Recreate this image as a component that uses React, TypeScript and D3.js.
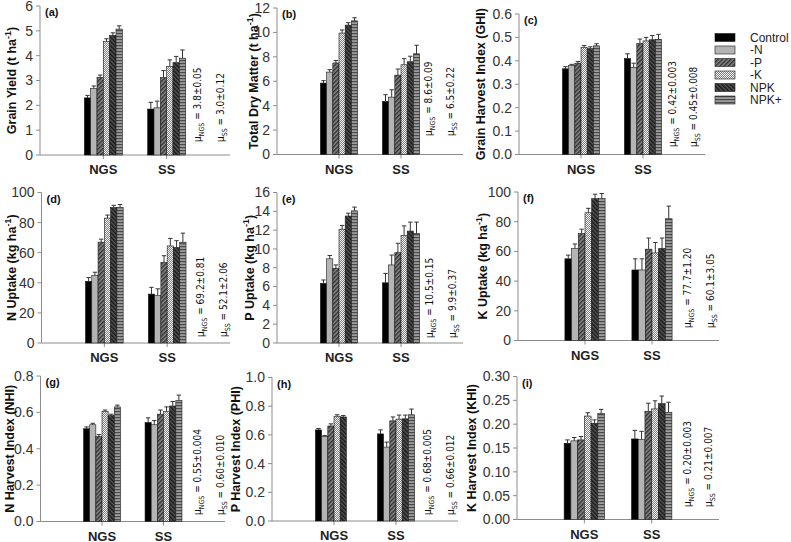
import React from 'react';
import * as d3 from 'd3';

// categories
const groups = ["NGS", "SS"];
const treatments = ["Control", "-N", "-P", "-K", "NPK", "NPK+"];

// (a) Grain yield, t/ha
const grainNGS = [2.3, 2.68, 3.12, 4.58, 4.82, 5.07];
const grainNGSErr = [0.1, 0.1, 0.1, 0.1, 0.1, 0.13];
const grainSS = [1.85, 1.9, 3.12, 3.57, 3.72, 3.9];
const grainSSErr = [0.27, 0.27, 0.28, 0.26, 0.25, 0.33];

// (b) Total dry matter, t/ha
const tdmNGS = [5.85, 6.75, 7.5, 9.95, 10.6, 10.95];
const tdmNGSErr = [0.2, 0.2, 0.2, 0.25, 0.2, 0.25];
const tdmSS = [4.35, 4.7, 6.5, 7.35, 7.6, 8.25];
const tdmSSErr = [0.55, 0.6, 0.5, 0.5, 0.45, 0.7];

// (c) Grain harvest index
const ghiNGS = [0.366, 0.38, 0.39, 0.457, 0.452, 0.464];
const ghiNGSErr = [0.009, 0.005, 0.007, 0.008, 0.008, 0.009];
const ghiSS = [0.41, 0.372, 0.474, 0.485, 0.49, 0.492];
const ghiSSErr = [0.02, 0.018, 0.019, 0.015, 0.018, 0.021];

// (d) N uptake, kg/ha
const nUpNGS = [41, 45, 67, 83, 90, 90];
const nUpNGSErr = [2.5, 2, 2, 2, 1.5, 2];
const nUpSS = [32.5, 31.5, 53.5, 64.5, 63.5, 67];
const nUpSSErr = [4.5, 4.5, 4.5, 5, 4.5, 6];

// (e) P uptake, kg/ha
const pUpNGS = [6.35, 8.95, 7.95, 12.1, 13.5, 14.05];
const pUpNGSErr = [0.35, 0.35, 0.35, 0.4, 0.3, 0.4];
const pUpSS = [6.4, 8.3, 9.6, 11.45, 11.9, 11.65];
const pUpSSErr = [1.0, 1.05, 1.0, 1.0, 0.95, 1.2];

// (f) K uptake, kg/ha
const kUpNGS = [55, 62, 72, 86, 95.5, 95.5];
const kUpNGSErr = [2.5, 3, 3, 3, 3, 3.5];
const kUpSS = [47.5, 47.5, 61.5, 59, 62, 82];
const kUpSSErr = [7.5, 7.5, 7.5, 7, 7, 8.5];

// (g) N harvest index
const nhiNGS = [0.51, 0.532, 0.468, 0.605, 0.583, 0.63];
const nhiNGSErr = [0.01, 0.008, 0.01, 0.008, 0.007, 0.01];
const nhiSS = [0.545, 0.532, 0.59, 0.605, 0.635, 0.665];
const nhiSSErr = [0.025, 0.023, 0.023, 0.025, 0.025, 0.03];

// (h) P harvest index (no NPK+ bar for NGS)
const phiNGS = [0.635, 0.59, 0.662, 0.73, 0.725, null];
const phiNGSErr = [0.01, 0.005, 0.015, 0.01, 0.01, null];
const phiSS = [0.607, 0.515, 0.698, 0.71, 0.712, 0.74];
const phiSSErr = [0.028, 0.035, 0.027, 0.028, 0.026, 0.04];

// (i) K harvest index
const khiNGS = [0.16, 0.165, 0.167, 0.217, 0.202, 0.222];
const khiNGSErr = [0.007, 0.007, 0.007, 0.007, 0.007, 0.009];
const khiSS = [0.169, 0.168, 0.227, 0.232, 0.243, 0.225];
const khiSSErr = [0.018, 0.017, 0.017, 0.017, 0.016, 0.021];

// axis maxima / steps / decimals
const yMax = [6, 12, 0.6, 100, 16, 100, 0.8, 1.0, 0.3];
const yStep = [1, 2, 0.1, 20, 2, 20, 0.2, 0.2, 0.05];
const yDec = [0, 0, 1, 0, 0, 0, 1, 1, 2];

// axis titles (main part, superscript, tail)
const yTitles = [
  ["Grain Yield (t ha", "-1", ")"],
  ["Total Dry Matter (t ha", "-1", ")"],
  ["Grain Harvest Index (GHI)", "", ""],
  ["N Uptake (kg ha", "-1", ")"],
  ["P Uptake (kg ha", "-1", ")"],
  ["K Uptake (kg ha", "-1", ")"],
  ["N Harvest Index (NHI)", "", ""],
  ["P Harvest Index (PHI)", "", ""],
  ["K Harvest Index (KHI)", "", ""],
];
const panelTags = ["(a)", "(b)", "(c)", "(d)", "(e)", "(f)", "(g)", "(h)", "(i)"];
const muNGS = ["3.8±0.05", "8.6±0.09", "0.42±0.003", "69.2±0.81", "10.5±0.15", "77.7±1.20", "0.55±0.004", "0.68±0.005", "0.20±0.003"];
const muSS = ["3.0±0.12", "6.5±0.22", "0.45±0.008", "52.1±2.06", "9.9±0.37", "60.1±3.05", "0.60±0.010", "0.66±0.012", "0.21±0.007"];

const seriesNGS = [grainNGS, tdmNGS, ghiNGS, nUpNGS, pUpNGS, kUpNGS, nhiNGS, phiNGS, khiNGS];
const seriesNGSErr = [grainNGSErr, tdmNGSErr, ghiNGSErr, nUpNGSErr, pUpNGSErr, kUpNGSErr, nhiNGSErr, phiNGSErr, khiNGSErr];
const seriesSS = [grainSS, tdmSS, ghiSS, nUpSS, pUpSS, kUpSS, nhiSS, phiSS, khiSS];
const seriesSSErr = [grainSSErr, tdmSSErr, ghiSSErr, nUpSSErr, pUpSSErr, kUpSSErr, nhiSSErr, phiSSErr, khiSSErr];

// plot frames (pixels) for each panel
const frames = [
  { x0: 40, x1: 230, yT: 6, yB: 155, titleX: 11, muX: [201, 224], muY: 142 },
  { x0: 277, x1: 463, yT: 8, yB: 154.5, titleX: 253, muX: [432, 454], muY: 136 },
  { x0: 519, x1: 705, yT: 14, yB: 154.5, titleX: 480, muX: [676, 697], muY: 147 },
  { x0: 41.5, x1: 230, yT: 192.5, yB: 343, titleX: 11, muX: [204, 227], muY: 337 },
  { x0: 277, x1: 463, yT: 192.5, yB: 343, titleX: 249, muX: [433, 456], muY: 338 },
  { x0: 518, x1: 719, yT: 192, yB: 340.5, titleX: 482, muX: [691, 714], muY: 328 },
  { x0: 40.5, x1: 225, yT: 376, yB: 521.5, titleX: 9, muX: [201, 224], muY: 515 },
  { x0: 272, x1: 458, yT: 377.5, yB: 521, titleX: 235, muX: [431, 454], muY: 515 },
  { x0: 517, x1: 719, yT: 376.5, yB: 519.5, titleX: 471, muX: [691, 712], muY: 507 },
];

const fills = ["#000000", "#b4b4b4", "url(#pP)", "url(#pK)", "url(#pNPK)", "url(#pPlus)"];
const FONT = "'Liberation Sans', Arial, sans-serif";
const NARROW = "'Liberation Sans Narrow', 'DejaVu Sans Condensed', 'Arial Narrow', sans-serif";

function Panel({ i }: { i: number }) {
  const f = frames[i];
  const y = d3.scaleLinear().domain([0, yMax[i]]).range([f.yB, f.yT]);
  const x = d3.scaleLinear().domain([0, 3]).range([f.x0, f.x1]);
  const unit = x(1) - x(0);
  const inner = d3.scaleBand().domain(treatments).range([-0.3 * unit, 0.3 * unit]).padding(0);
  const ticks = d3.range(0, yMax[i] + yStep[i] / 2, yStep[i]);
  const fmt = d3.format(`.${yDec[i]}f`);
  const data = [
    { g: groups[0], v: seriesNGS[i], e: seriesNGSErr[i] },
    { g: groups[1], v: seriesSS[i], e: seriesSSErr[i] },
  ];
  const t = yTitles[i];
  const midY = (f.yT + f.yB) / 2;
  return (
    <g>
      {/* y axis */}
      <line x1={f.x0} x2={f.x0} y1={f.yT} y2={f.yB} stroke="#8c8c8c" />
      {ticks.map((tk) => (
        <g key={tk}>
          <line x1={f.x0 - 4} x2={f.x0} y1={y(tk)} y2={y(tk)} stroke="#8c8c8c" />
          <text x={f.x0 - 7} y={y(tk)} dy="0.35em" textAnchor="end" fontSize={14} fill="#333" fontFamily={FONT}>
            {fmt(tk)}
          </text>
        </g>
      ))}
      {/* x axis */}
      <line x1={f.x0} x2={f.x1} y1={f.yB} y2={f.yB} stroke="#8c8c8c" />
      {groups.map((g, gi) => (
        <g key={g}>
          <line x1={x(gi + 1)} x2={x(gi + 1)} y1={f.yB} y2={f.yB + 4} stroke="#8c8c8c" />
          <text x={x(gi + 1)} y={f.yB + 19} textAnchor="middle" fontSize={13} fontWeight="bold" fill="#222" fontFamily={FONT}>
            {g}
          </text>
        </g>
      ))}
      {/* bars */}
      {data.map((d, gi) =>
        d.v.map((v, k) => {
          if (v == null) return null;
          const bx = x(gi + 1) + (inner(treatments[k]) as number);
          const bw = inner.bandwidth();
          const cx = bx + bw / 2;
          const top = y(v);
          const et = y(v + (d.e[k] as number));
          return (
            <g key={`${gi}-${k}`}>
              <rect x={bx} y={top} width={bw} height={f.yB - top} fill={fills[k]} stroke="#1a1a1a" strokeWidth={0.6} />
              <line x1={cx} x2={cx} y1={top} y2={et} stroke="#333" strokeWidth={1} />
              <line x1={cx - 2.2} x2={cx + 2.2} y1={et} y2={et} stroke="#333" strokeWidth={1} />
            </g>
          );
        })
      )}
      {/* tag */}
      <text x={f.x0 + 5} y={f.yT + 10} fontSize={11} fontWeight="bold" fill="#111" fontFamily={FONT}>
        {panelTags[i]}
      </text>
      {/* y title */}
      <text
        transform={`translate(${f.titleX + 5},${midY}) rotate(-90)`}
        textAnchor="middle"
        fontSize={12.5}
        fontWeight="bold"
        fill="#111"
        fontFamily={FONT}
      >
        {t[0]}
        {t[1] && (
          <tspan fontSize={9} dy={-5}>
            {t[1]}
          </tspan>
        )}
        {t[2] && <tspan dy={5}>{t[2]}</tspan>}
      </text>
      {/* mean annotations */}
      {[muNGS[i], muSS[i]].map((m, mi) => (
        <text
          key={mi}
          transform={`translate(${f.muX[mi]},${f.muY}) rotate(-90)`}
          fontSize={10}
          fill="#111"
          fontFamily={NARROW}
        >
          μ
          <tspan fontSize={7} dy={3}>
            {mi === 0 ? "NGS" : "SS"}
          </tspan>
          <tspan dy={-3}>{" = " + m}</tspan>
        </text>
      ))}
    </g>
  );
}

export default function App() {
  const legendY = d3.scalePoint().domain(treatments).range([37.5, 100]);
  return (
    <svg width={791} height={542} style={{ position: 'absolute', left: 0, top: 0, background: '#fff' }}>
      <defs>
        <pattern id="pP" width={3} height={3} patternUnits="userSpaceOnUse" patternTransform="rotate(45)">
          <rect width={3} height={3} fill="#8a8a8a" />
          <rect width={1.5} height={3} fill="#333" />
        </pattern>
        <pattern id="pK" width={2} height={2} patternUnits="userSpaceOnUse">
          <rect width={2} height={2} fill="#f4f4f4" />
          <rect x={1} y={0} width={1} height={1} fill="#808080" />
          <rect x={0} y={1} width={1} height={1} fill="#808080" />
        </pattern>
        <pattern id="pNPK" width={3} height={3} patternUnits="userSpaceOnUse" patternTransform="rotate(-45)">
          <rect width={3} height={3} fill="#555" />
          <rect width={1.6} height={3} fill="#1c1c1c" />
        </pattern>
        <pattern id="pPlus" width={4} height={3} patternUnits="userSpaceOnUse">
          <rect width={4} height={3} fill="#9c9c9c" />
          <rect width={4} height={1.2} fill="#4a4a4a" />
        </pattern>
      </defs>
      {frames.map((_, i) => (
        <Panel key={i} i={i} />
      ))}
      {/* legend */}
      {treatments.map((t, k) => (
        <g key={t}>
          <rect x={715} y={(legendY(t) as number) - 4} width={20} height={8} fill={fills[k]} stroke="#1a1a1a" strokeWidth={0.6} />
          <text x={750} y={legendY(t)} dy="0.35em" fontSize={12} fill="#222" fontFamily={FONT}>
            {t}
          </text>
        </g>
      ))}
    </svg>
  );
}
